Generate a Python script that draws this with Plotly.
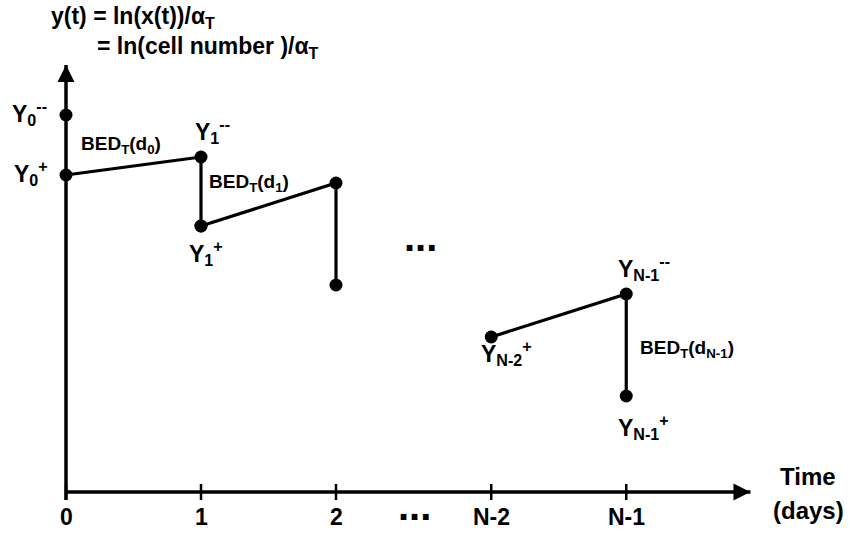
import plotly.graph_objects as go

# ---- data (schematic values) ----
tick_pos = [0, 1, 2, 3.15, 4.15]
tick_labels = ["0", "1", "2", "N-2", "N-1"]

seg1_x = [0, 1, 1]
seg1_y = [3.17, 3.35, 2.66]
seg2_x = [1, 2, 2]
seg2_y = [2.66, 3.09, 2.07]
segN_x = [3.15, 4.15, 4.15]
segN_y = [1.55, 1.98, 0.96]
y0_pre_x = [0]
y0_pre_y = [3.77]

y_axis_top = 4.27
x_axis_end = 5.07

W, H = 850, 535
X0_PX, Y0_PX, XUNIT, YUNIT = 66, 492, 135, 100
x_range = [-X0_PX / XUNIT, (W - X0_PX) / XUNIT]
y_range = [-(H - Y0_PX) / YUNIT, Y0_PX / YUNIT]

FONT = "Arial, Liberation Sans, sans-serif"
BLACK = "#000000"

fig = go.Figure()

# axes
fig.add_trace(go.Scatter(x=[0, 0], y=[-0.08, y_axis_top], mode="lines",
                         line=dict(color=BLACK, width=3.5), hoverinfo="skip"))
fig.add_trace(go.Scatter(x=[0, x_axis_end], y=[0, 0], mode="lines",
                         line=dict(color=BLACK, width=3.5), hoverinfo="skip"))
fig.add_trace(go.Scatter(x=[0], y=[y_axis_top], mode="markers",
                         marker=dict(symbol="arrow-up", size=17, color=BLACK)))
fig.add_trace(go.Scatter(x=[x_axis_end], y=[0], mode="markers",
                         marker=dict(symbol="arrow-right", size=17, color=BLACK)))

# ticks
tx, ty = [], []
for p in tick_pos:
    tx += [p, p, None]
    ty += [-0.08, 0.08, None]
fig.add_trace(go.Scatter(x=tx, y=ty, mode="lines",
                         line=dict(color=BLACK, width=2.5), hoverinfo="skip"))

# trajectory
for sx, sy in [(seg1_x, seg1_y), (seg2_x, seg2_y), (segN_x, segN_y)]:
    fig.add_trace(go.Scatter(x=sx, y=sy, mode="lines+markers",
                             line=dict(color=BLACK, width=3.2),
                             marker=dict(size=13, color=BLACK)))
fig.add_trace(go.Scatter(x=y0_pre_x, y=y0_pre_y, mode="markers",
                         marker=dict(size=13, color=BLACK)))

def ann(text, px, py, size, xanchor="left"):
    fig.add_annotation(text=text, x=px / W, y=1 - py / H, xref="paper", yref="paper",
                       xanchor=xanchor, yanchor="middle", showarrow=False,
                       font=dict(family=FONT, size=size, color=BLACK, weight="bold"))

# tick labels
for p, lab in zip(tick_pos, tick_labels):
    fig.add_annotation(text=lab, x=p, y=1 - 517 / H, xref="x", yref="paper",
                       xanchor="center", yanchor="middle", showarrow=False,
                       font=dict(family=FONT, size=23, color=BLACK, weight="bold"))

ann("y(t) = ln(x(t))/α<sub>T</sub>", 49, 18, 23)
ann("= ln(cell number )/α<sub>T</sub>", 95, 48, 23)

ann("Y<sub>0</sub><sup>--</sup>", 10, 113, 23)
ann("Y<sub>0</sub><sup>+</sup>", 12, 173, 23)
ann("Y<sub>1</sub><sup>--</sup>", 193, 131, 23)
ann("Y<sub>1</sub><sup>+</sup>", 187, 253, 23)
ann("Y<sub>N-1</sub><sup>--</sup>", 616, 268, 23)
ann("Y<sub>N-2</sub><sup>+</sup>", 479, 353, 23)
ann("Y<sub>N-1</sub><sup>+</sup>", 616, 427, 23)

ann("BED<sub>T</sub>(d<sub>0</sub>)", 79, 145, 19)
ann("BED<sub>T</sub>(d<sub>1</sub>)", 207, 183, 19)
ann("BED<sub>T</sub>(d<sub>N-1</sub>)", 638, 349, 19)

ann("...", 420, 237, 40, "center")
ann("...", 414, 506, 40, "center")

ann("Time", 808, 476, 24, "center")
ann("(days)", 808, 510, 24, "center")

fig.update_layout(
    width=W, height=H, margin=dict(l=0, r=0, t=0, b=0),
    paper_bgcolor="white", plot_bgcolor="white", showlegend=False,
    xaxis=dict(range=x_range, visible=False, fixedrange=True),
    yaxis=dict(range=y_range, visible=False, fixedrange=True),
)

fig.write_html("out.html", config={"displayModeBar": False},
               post_script="document.body.style.margin='0';")
